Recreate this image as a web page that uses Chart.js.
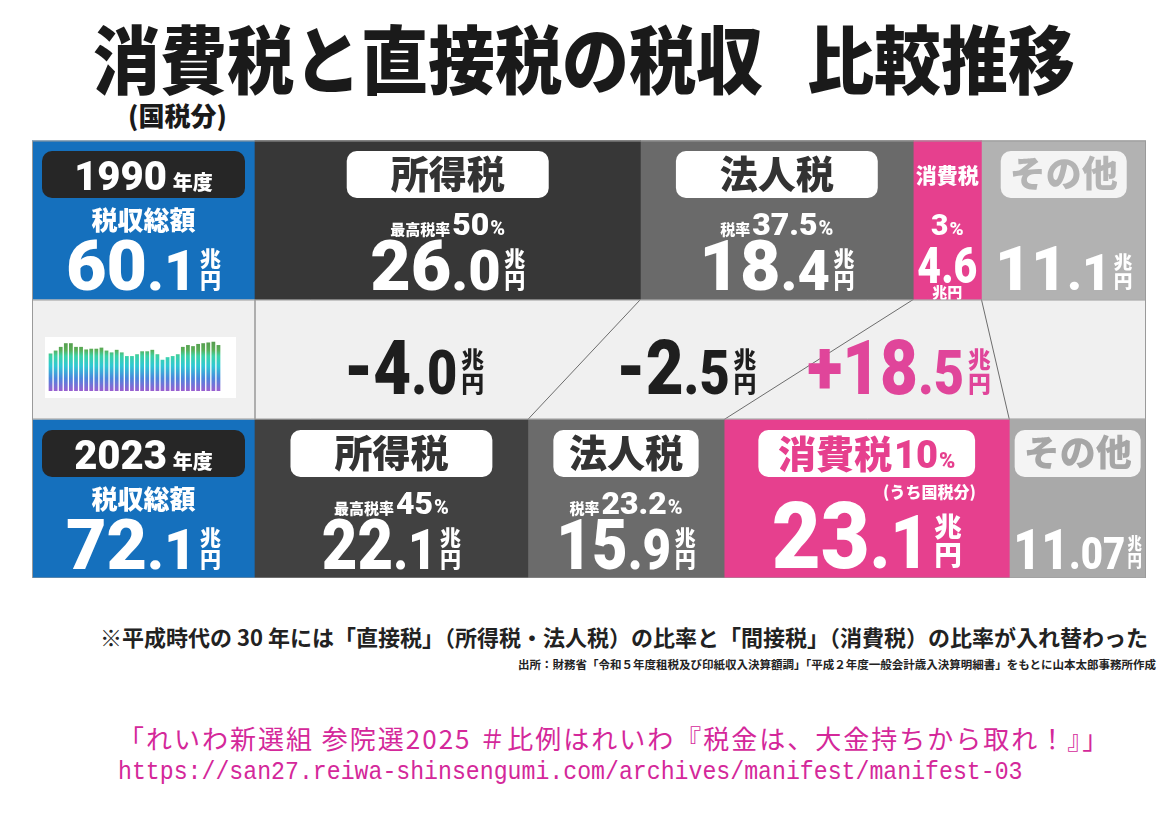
<!DOCTYPE html>
<html lang="ja">
<head>
<meta charset="utf-8">
<title>消費税と直接税の税収 比較推移</title>
<script src="https://cdn.jsdelivr.net/npm/chart.js@4.4.1/dist/chart.umd.min.js"></script>
<style>
  body { margin: 0; background: #fff; width: 1168px; height: 814px; overflow: hidden; position: relative;
         font-family: "Noto Sans CJK JP", "Noto Sans", sans-serif; }
  #title { position: absolute; left: 0; top: 21px; width: 1168px; text-align: center; font-size: 67px;
           font-weight: 900; line-height: 70px; color: #1a1a1a; transform: scale(1, 1.1); white-space: nowrap; }
  #title .gap { display: inline-block; width: 44px; }
  #sub { position: absolute; left: 128px; top: 96px; font-size: 26px; font-weight: 900; color: #1a1a1a; }
  #board { position: absolute; left: 32px; top: 140px; }
  #thumb { position: absolute; left: 45px; top: 337px; width: 191px; height: 61px; background: #fff; }
  #note { position: absolute; right: 20px; top: 620px; font-size: 22px; font-weight: 700; color: #222; white-space: nowrap; }
  #src { position: absolute; right: 12px; top: 656px; font-size: 11.5px; font-weight: 700; color: #222; white-space: nowrap; }
  #slogan { position: absolute; left: 118px; top: 719px; font-size: 26px; letter-spacing: 2px; color: #d4289a; white-space: nowrap; }
  #url { position: absolute; left: 118px; top: 757px; font-size: 23.2px; color: #d4289a; white-space: nowrap;
         font-family: "Liberation Mono", "DejaVu Sans Mono", monospace; transform: scale(1, 1.15); transform-origin: left top; }
</style>
</head>
<body>
<div id="title">消費税と直接税の税収<span class="gap"></span>比較推移</div>
<div id="sub">(国税分)</div>
<canvas id="board" width="1114" height="438"></canvas>
<div id="thumb"><canvas id="thumbChart" width="191" height="61"></canvas></div>
<div id="note">※平成時代の 30 年には「直接税」（所得税・法人税）の比率と「間接税」（消費税）の比率が入れ替わった</div>
<div id="src">出所：財務省「令和５年度租税及び印紙収入決算額調」「平成２年度一般会計歳入決算明細書」をもとに山本太郎事務所作成</div>
<div id="slogan">「れいわ新選組 参院選2025 ＃比例はれいわ『税金は、大金持ちから取れ！』」</div>
<div id="url">https://san27.reiwa-shinsengumi.com/archives/manifest/manifest-03</div>

<script>
// 年度ごとの税収（兆円）
const years = ['1990', '2023'];
const totalRevenue = ['60.1', '72.1'];
const incomeTax = [26.0, 22.1];
const corporateTax = [18.4, 15.9];
const consumptionTax = [4.6, 23.1];
const otherTax = [11.1, 11.07];

// 税率ラベル
const incomeTopRate = ['50', '45'];
const corporateRate = ['37.5', '23.2'];
const consumptionRate = ['3', '10'];

// 増減
const changeLabels = ['-4.0', '-2.5', '+18.5'];

// 左のサムネイル（税収推移の小さなグラフ）
const thumbYears = ['1990', '1991', '1992', '1993', '1994', '1995', '1996', '1997', '1998', '1999', '2000', '2001',
  '2002', '2003', '2004', '2005', '2006', '2007', '2008', '2009', '2010', '2011', '2012', '2013', '2014', '2015',
  '2016', '2017', '2018', '2019', '2020', '2021', '2022', '2023'];
const thumbTotals = [102, 110, 120, 130, 130, 120, 120, 113, 115, 115, 118, 110, 105, 112, 105, 95, 95, 100,
  108, 108, 112, 100, 85, 92, 95, 100, 120, 125, 122, 128, 130, 132, 134, 125];

const JP = '"Noto Sans CJK JP", "Noto Sans", sans-serif';
const NUM = 'Roboto, "Noto Sans", sans-serif';
const BLUE = '#1570bd';
const PINK = '#e6408e';

const rowSums = years.map((_, i) => incomeTax[i] + corporateTax[i] + consumptionTax[i] + otherTax[i]);
const share = arr => arr.map((v, i) => v / rowSums[i] * 100);

function fmt(v) {
  const s = v.toFixed(2);
  return s.endsWith('0') ? v.toFixed(1) : s;
}

function bar(chart, d, r) {
  return chart.getDatasetMeta(d).data[r].getProps(['x', 'y', 'base', 'height'], true);
}

function drawRuns(ctx, runs, cx, baseline, condense = 1) {
  let total = 0;
  runs.forEach(r => { ctx.font = r.font; r.w = ctx.measureText(r.t).width; total += r.w + (r.gap || 0); });
  ctx.save();
  ctx.translate(cx - total * condense / 2, baseline);
  ctx.scale(condense, 1);
  let x = 0;
  ctx.textAlign = 'left';
  ctx.textBaseline = 'alphabetic';
  runs.forEach(r => {
    ctx.font = r.font;
    ctx.fillStyle = r.color;
    ctx.fillText(r.t, x, 0);
    x += r.w + (r.gap || 0);
  });
  ctx.restore();
  return total;
}

function pill(ctx, cx, cy, w, h, fill) {
  ctx.fillStyle = fill;
  ctx.beginPath();
  ctx.roundRect(cx - w / 2, cy - h / 2, w, h, 10);
  ctx.fill();
}

function drawAmount(ctx, text, cx, baseline, size, color, opt = {}) {
  const sx = opt.condense || 1;
  const [ip, dp] = text.split('.');
  const decSize = size * 0.8;
  const unit = size * 0.3;
  const gap = size * 0.05;
  ctx.font = `900 ${size}px ${NUM}`;
  const wi = ctx.measureText(ip).width;
  ctx.font = `900 ${decSize}px ${NUM}`;
  const wd = dp ? ctx.measureText('.' + dp).width : 0;
  ctx.font = `900 ${unit}px ${JP}`;
  const wu = ctx.measureText('兆').width;
  const total = (wi + wd) * sx + gap + wu;
  const k = opt.maxWidth && total > opt.maxWidth ? opt.maxWidth / total : 1;
  ctx.save();
  ctx.translate(cx - total * k / 2, baseline);
  ctx.scale(k, 1);
  ctx.fillStyle = color;
  ctx.textAlign = 'left';
  ctx.textBaseline = 'alphabetic';
  ctx.save();
  ctx.scale(sx, 1);
  ctx.font = `900 ${size}px ${NUM}`;
  ctx.fillText(ip, 0, 0);
  if (dp) {
    ctx.font = `900 ${decSize}px ${NUM}`;
    ctx.fillText('.' + dp, wi, 0);
  }
  ctx.restore();
  const ux = (wi + wd) * sx + gap;
  ctx.font = `900 ${unit}px ${JP}`;
  ctx.fillText('兆', ux, -unit * 1.1);
  ctx.fillText('円', ux, -unit * 0.08);
  ctx.restore();
}

function namePill(ctx, name, cx, cy, segW, fill, color, size) {
  ctx.font = `900 ${size}px ${JP}`;
  const tw = ctx.measureText(name).width;
  const w = Math.min(tw + 88, Math.max(segW * 0.74, tw + 18));
  pill(ctx, cx, cy, w, 47, fill);
  drawRuns(ctx, [{ t: name, font: `900 ${size}px ${JP}`, color }], cx, cy + size * 0.36);
}

function rateLine(ctx, prefix, num, cx, baseline) {
  drawRuns(ctx, [
    { t: prefix, font: `900 15px ${JP}`, color: '#fff', gap: 2 },
    { t: num, font: `900 32px ${NUM}`, color: '#fff', gap: 1 },
    { t: '%', font: `900 20px ${NUM}`, color: '#fff' }
  ], cx, baseline);
}

const boardPlugin = {
  id: 'boardLabels',
  beforeDatasetsDraw(chart) {
    const { ctx, chartArea, width } = chart;
    const t = bar(chart, 0, 0), b = bar(chart, 0, 1);
    const bandTop = t.y + t.height / 2, bandBot = b.y - b.height / 2;
    ctx.save();
    ctx.fillStyle = '#f0f0f0';
    ctx.fillRect(0, bandTop, width, bandBot - bandTop);
    ctx.fillStyle = BLUE;
    [t, b].forEach(el => ctx.fillRect(0, el.y - el.height / 2, chartArea.left, el.height));
    ctx.restore();
  },
  afterDatasetsDraw(chart) {
    const { ctx, chartArea, width } = chart;
    const t0 = bar(chart, 0, 0), b0 = bar(chart, 0, 1);
    const bandTop = t0.y + t0.height / 2, bandBot = b0.y - b0.height / 2;
    const bandMid = (bandTop + bandBot) / 2;
    ctx.save();

    // 上下をつなぐ線
    ctx.strokeStyle = '#6d6d6d';
    ctx.lineWidth = 1;
    for (let d = 0; d < 4; d++) {
      const a = bar(chart, d, 0).base, c = bar(chart, d, 1).base;
      ctx.beginPath();
      ctx.moveTo(a, bandTop);
      ctx.lineTo(c, bandBot);
      ctx.stroke();
    }

    // 増減
    for (let d = 0; d < 3; d++) {
      const p = bar(chart, d, 0), q = bar(chart, d, 1);
      const cx = 0.4 * (p.base + p.x) / 2 + 0.6 * (q.base + q.x) / 2;
      drawAmount(ctx, changeLabels[d], cx, bandMid + 34, 76, d === 2 ? '#e0459a' : '#1e1e1e', { condense: 0.86 });
    }

    for (let r = 0; r < 2; r++) {
      const top = t0.y - t0.height / 2 + (r === 0 ? 0 : b0.y - t0.y);
      const pillCy = top + 34;

      // 年度と総額
      const lx = chartArea.left / 2;
      pill(ctx, lx, pillCy, 203, 47, '#262626');
      drawRuns(ctx, [
        { t: years[r], font: `900 40px ${NUM}`, color: '#fff', gap: 6 },
        { t: '年度', font: `900 20px ${JP}`, color: '#fff' }
      ], lx, pillCy + 15);
      drawRuns(ctx, [{ t: '税収総額', font: `900 26px ${JP}`, color: '#fff' }], lx, top + 89);
      drawAmount(ctx, totalRevenue[r], lx, top + 149, 70, '#fff');

      for (let d = 0; d < 4; d++) {
        const el = bar(chart, d, r);
        const left = Math.min(el.base, el.x), right = Math.max(el.base, el.x);
        const w = right - left, cx = (left + right) / 2;
        const values = chart.data.datasets[d].raw;
        if (d === 0 || d === 1) {
          namePill(ctx, chart.data.datasets[d].label, cx, pillCy, w, '#fff', '#333', 38);
          rateLine(ctx, d === 0 ? '最高税率' : '税率', d === 0 ? incomeTopRate[r] : corporateRate[r], cx, top + 94);
          drawAmount(ctx, fmt(values[r]), cx, top + 149, 70, '#fff', { maxWidth: w - 12, condense: r === 0 ? 1 : 0.88 });
        } else if (d === 2 && w < 110) {
          drawRuns(ctx, [{ t: '消費税', font: `900 21px ${JP}`, color: '#fff' }], cx, top + 42);
          drawRuns(ctx, [
            { t: consumptionRate[r], font: `900 30px ${NUM}`, color: '#fff', gap: 1 },
            { t: '%', font: `900 19px ${NUM}`, color: '#fff' }
          ], cx, top + 94);
          drawRuns(ctx, [{ t: fmt(values[r]), font: `900 50px ${NUM}`, color: '#fff' }], cx, top + 142, 0.82);
          drawRuns(ctx, [{ t: '兆円', font: `900 15px ${JP}`, color: '#fff' }], cx, top + 157);
        } else if (d === 2) {
          const runs = [
            { t: '消費税', font: `900 38px ${JP}`, color: PINK, gap: 2 },
            { t: consumptionRate[r], font: `900 38px ${NUM}`, color: PINK, gap: 1 },
            { t: '%', font: `900 22px ${NUM}`, color: PINK }
          ];
          let tw = 0;
          runs.forEach(x => { ctx.font = x.font; tw += ctx.measureText(x.t).width + (x.gap || 0); });
          pill(ctx, cx, pillCy, Math.min(tw + 88, Math.max(w * 0.76, tw + 18)), 47, '#fff');
          drawRuns(ctx, runs, cx, pillCy + 14);
          drawRuns(ctx, [{ t: '(うち国税分)', font: `900 16px ${JP}`, color: '#fff' }], cx + w * 0.22, top + 78);
          drawAmount(ctx, fmt(values[r]), cx, top + 148, 92, '#fff', { maxWidth: w - 12, condense: 0.92 });
        } else {
          namePill(ctx, chart.data.datasets[d].label, cx, pillCy, w, '#f4f4f4', r === 0 ? '#b4b4b4' : '#a6a6a6', 36);
          drawAmount(ctx, fmt(values[r]), cx, top + 149, r === 0 ? 62 : 56, '#fff', { maxWidth: w - 8 });
        }
      }
    }

    // 外枠
    ctx.strokeStyle = '#9a9a9a';
    ctx.lineWidth = 1;
    ctx.strokeRect(0.5, t0.y - t0.height / 2 + 0.5, width - 1, b0.y + b0.height / 2 - (t0.y - t0.height / 2) - 1);
    ctx.beginPath();
    ctx.moveTo(0, bandTop + 0.5); ctx.lineTo(width, bandTop + 0.5);
    ctx.moveTo(0, bandBot - 0.5); ctx.lineTo(width, bandBot - 0.5);
    ctx.stroke();
    ctx.restore();
  }
};

new Chart(document.getElementById('board'), {
  type: 'bar',
  data: {
    labels: years,
    datasets: [
      { label: '所得税', raw: incomeTax, data: share(incomeTax), backgroundColor: ['#373737', '#414141'] },
      { label: '法人税', raw: corporateTax, data: share(corporateTax), backgroundColor: ['#6a6a6a', '#6b6b6b'] },
      { label: '消費税', raw: consumptionTax, data: share(consumptionTax), backgroundColor: [PINK, PINK] },
      { label: 'その他', raw: otherTax, data: share(otherTax), backgroundColor: ['#b2b2b2', '#a9a9a9'] }
    ].map(ds => Object.assign(ds, { barThickness: 159, borderWidth: 0, clip: false }))
  },
  options: {
    indexAxis: 'y',
    responsive: false,
    animation: false,
    layout: { padding: { left: 223, right: 0, top: 80, bottom: 79 } },
    scales: {
      x: { stacked: true, min: 0, max: 100, display: false },
      y: { stacked: true, display: false, offset: false }
    },
    plugins: { legend: { display: false }, tooltip: { enabled: false } }
  },
  plugins: [boardPlugin]
});

new Chart(document.getElementById('thumbChart'), {
  type: 'bar',
  data: {
    labels: thumbYears,
    datasets: [{
      data: thumbTotals,
      barPercentage: 0.74,
      categoryPercentage: 1,
      backgroundColor: (c) => {
        const area = c.chart.chartArea;
        if (!area) return '#3cc';
        const g = c.chart.ctx.createLinearGradient(0, area.bottom, 0, area.top);
        g.addColorStop(0, '#9a5fd0');
        g.addColorStop(0.25, '#4c86dc');
        g.addColorStop(0.5, '#2fc8d4');
        g.addColorStop(0.7, '#3cd2a6');
        g.addColorStop(0.82, '#5aae58');
        g.addColorStop(1, '#559a4c');
        return g;
      }
    }]
  },
  options: {
    responsive: false,
    animation: false,
    layout: { padding: { top: 4, bottom: 7, left: 3, right: 15 } },
    scales: { x: { display: false }, y: { display: false, min: 0, max: 136 } },
    plugins: { legend: { display: false }, tooltip: { enabled: false } }
  }
});
</script>
</body>
</html>
